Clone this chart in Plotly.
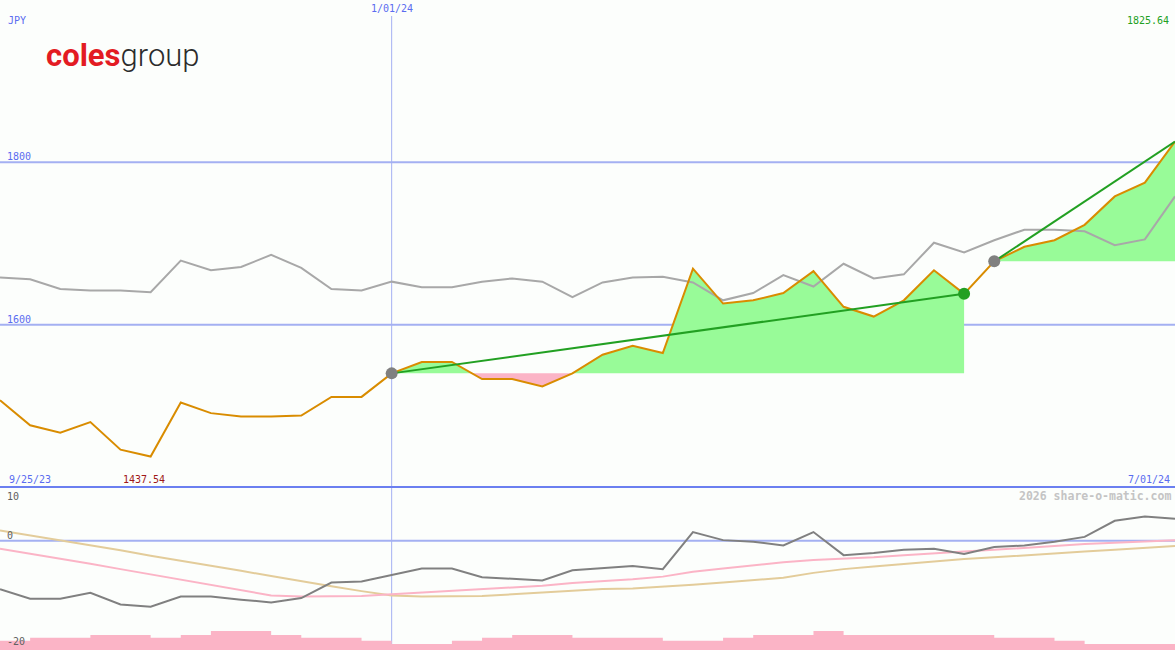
import pandas as pd
import plotly.graph_objects as go

# ---------------- data ----------------
dates = pd.date_range("2023-10-02", periods=40, freq="7D")

price = [1507, 1476, 1467, 1480, 1446, 1437.54, 1504, 1491, 1487, 1487,
         1488, 1511, 1511, 1540, 1554, 1554, 1533, 1533, 1524, 1540,
         1563, 1574, 1565, 1669, 1626, 1630, 1639, 1666, 1622, 1610,
         1630, 1667, 1638, 1678, 1696, 1704, 1723, 1758, 1775, 1825.64]

index_line = [1658, 1656, 1644, 1642, 1642, 1640, 1679, 1667, 1671, 1686,
              1670, 1644, 1642, 1653, 1646, 1646, 1653, 1657, 1653, 1634,
              1652, 1658, 1659, 1652, 1630, 1639, 1661, 1647, 1675, 1657,
              1662, 1701, 1689, 1704, 1717, 1717, 1715, 1698, 1705, 1758]

momentum = [-9.05, -10.8, -10.8, -9.7, -11.9, -12.3, -10.4, -10.4, -11.0, -11.5,
            -10.7, -7.8, -7.6, -6.4, -5.2, -5.2, -6.8, -7.1, -7.4, -5.5,
            -5.1, -4.7, -5.3, 1.6, 0.1, -0.2, -0.9, 1.6, -2.7, -2.3,
            -1.7, -1.5, -2.5, -1.2, -0.9, -0.2, 0.7, 3.7, 4.5, 4.1]

avg_fast = [-1.5, -2.4, -3.4, -4.3, -5.3, -6.3, -7.3, -8.2, -9.2, -10.2,
            -10.4, -10.3, -10.3, -10.0, -9.7, -9.3, -9.0, -8.8, -8.4, -7.9,
            -7.6, -7.2, -6.7, -5.8, -5.2, -4.6, -4.0, -3.6, -3.4, -3.1,
            -2.7, -2.3, -2.0, -1.7, -1.4, -1.0, -0.6, -0.4, -0.1, 0.1]

avg_slow = [1.9, 1.0, 0.0, -0.9, -1.8, -2.8, -3.7, -4.6, -5.6, -6.6,
            -7.6, -8.5, -9.4, -10.2, -10.4, -10.3, -10.3, -10.0, -9.7, -9.3,
            -9.0, -8.9, -8.6, -8.2, -7.8, -7.4, -6.9, -6.0, -5.3, -4.8,
            -4.3, -3.8, -3.4, -3.1, -2.7, -2.3, -2.0, -1.7, -1.4, -1.0]

volume = [9.3, 12.3, 12.3, 15, 15, 12.3, 15, 19, 19, 15,
          12.3, 12.3, 9.3, 6, 6, 9.3, 12.3, 15, 15, 12.3,
          12.3, 12.3, 9.3, 9.3, 12.3, 15, 15, 19, 15, 15,
          15, 15, 15, 12.3, 12.3, 9.3, 6, 6, 6]

trend_segments = [(13, 32), (33, 39)]
marker_points = [(13, "#808080"), (32, "#22a022"), (33, "#808080")]
vline_date = "2024-01-01"

# ---------------- styles ----------------
BG = "#fcfefc"
ORANGE = "#d98c00"
GRAY = "#a8a8a8"
DGRAY = "#808080"
GREEN = "#22a022"
LGREEN = "#98fb98"
PINK = "#fbb4c6"
TAN = "#e3cc9a"
BLUE = "#5a6cf0"
GRID = "#a4b0f2"
W, H = 1175, 650
SPLIT = 487  # px from top where panels meet
MONO = "DejaVu Sans Mono"

fig = go.Figure()


def fill_polys(i0, i1):
    base = price[i0]
    xs = list(dates[i0:i1 + 1])
    ys = price[i0:i1 + 1]
    up, dn = [], []
    for k in range(len(xs)):
        if k > 0:
            a, b = ys[k - 1] - base, ys[k] - base
            if a * b < 0:
                f = a / (a - b)
                xc = xs[k - 1] + (xs[k] - xs[k - 1]) * f
                up.append((xc, base))
                dn.append((xc, base))
        up.append((xs[k], max(ys[k], base)))
        dn.append((xs[k], min(ys[k], base)))
    close = [(xs[-1], base), (xs[0], base)]
    return up + close, dn + close


for i0, i1 in trend_segments:
    up, dn = fill_polys(i0, i1)
    for poly, col in ((up, LGREEN), (dn, PINK)):
        fig.add_trace(go.Scatter(x=[p[0] for p in poly], y=[p[1] for p in poly],
                                 fill="toself", fillcolor=col, mode="lines",
                                 line=dict(width=0), hoverinfo="skip",
                                 xaxis="x", yaxis="y"))

fig.add_trace(go.Scatter(x=dates, y=index_line, mode="lines",
                         line=dict(color=GRAY, width=2), xaxis="x", yaxis="y"))
fig.add_trace(go.Scatter(x=dates, y=price, mode="lines",
                         line=dict(color=ORANGE, width=2), xaxis="x", yaxis="y"))

for i0, i1 in trend_segments:
    fig.add_trace(go.Scatter(x=[dates[i0], dates[i1]], y=[price[i0], price[i1]],
                             mode="lines", line=dict(color=GREEN, width=2),
                             xaxis="x", yaxis="y"))

for i, col in marker_points:
    fig.add_trace(go.Scatter(x=[dates[i]], y=[price[i]], mode="markers",
                             marker=dict(color=col, size=12, line=dict(width=0)),
                             xaxis="x", yaxis="y"))

# bottom panel
vol_x = list(dates)
vol_y = volume + [volume[-1]]
fig.add_trace(go.Scatter(x=vol_x, y=vol_y, mode="lines", line_shape="hv",
                         line=dict(width=0, color=PINK), fill="tozeroy",
                         fillcolor=PINK, xaxis="x", yaxis="y3"))
fig.add_trace(go.Scatter(x=dates, y=avg_slow, mode="lines",
                         line=dict(color=TAN, width=2), xaxis="x", yaxis="y2"))
fig.add_trace(go.Scatter(x=dates, y=avg_fast, mode="lines",
                         line=dict(color=PINK, width=2), xaxis="x", yaxis="y2"))
fig.add_trace(go.Scatter(x=dates, y=momentum, mode="lines",
                         line=dict(color=DGRAY, width=2), xaxis="x", yaxis="y2"))

split = 1 - SPLIT / H
hidden = dict(showgrid=False, zeroline=False, showticklabels=False,
              showline=False, ticks="")

fig.update_layout(
    width=W, height=H, margin=dict(l=0, r=0, t=0, b=0),
    paper_bgcolor=BG, plot_bgcolor=BG, showlegend=False,
    xaxis=dict(range=[dates[0], dates[-1]], domain=[0, 1], **hidden),
    yaxis=dict(range=[1400, 2000], domain=[split, 1], **hidden),
    yaxis2=dict(range=[-20.37, 10], domain=[0, split], anchor="x", **hidden),
    yaxis3=dict(range=[0, H - SPLIT], overlaying="y2", anchor="x", **hidden),
)

# grid lines
for lvl in (1600, 1800):
    fig.add_shape(type="line", xref="paper", yref="y", x0=0, x1=1, y0=lvl, y1=lvl,
                  line=dict(color=GRID, width=2), layer="below")
fig.add_shape(type="line", xref="paper", yref="y2", x0=0, x1=1, y0=0, y1=0,
              line=dict(color=GRID, width=2), layer="below")
fig.add_shape(type="line", xref="x", yref="paper", x0=vline_date, x1=vline_date,
              y0=0, y1=1 - 16 / H, line=dict(color=GRID, width=1), layer="below")
fig.add_shape(type="line", xref="paper", yref="paper", x0=0, x1=1, y0=split, y1=split,
              line=dict(color="#6b7ff0", width=2))


def label(text, px, py, color, anchor="left", size=10, bold=False):
    fig.add_annotation(text=f"<b>{text}</b>" if bold else text,
                       xref="paper", yref="paper", x=px / W, y=1 - py / H,
                       xanchor=anchor, yanchor="middle", showarrow=False,
                       font=dict(family=MONO, size=size, color=color))


label("JPY", 6, 20, BLUE)
label("1/01/24", 392, 9, BLUE, anchor="center")
label(f"{max(price):.2f}", 1171, 20, GREEN, anchor="right")
label("1800", 5, 156, BLUE)
label("1600", 5, 319, BLUE)
label("9/25/23", 7, 479, BLUE)
label(f"{min(price):.2f}", 121, 479, "#a01818")
label("7/01/24", 1172, 479, BLUE, anchor="right")
label("2026 share-o-matic.com", 1173, 496, "#c4c4c4", anchor="right", size=11.5, bold=True)
label("10", 5, 496, "#606060")
label("0", 5, 535, "#606060")
label("-20", 5, 641, "#606060")

fig.add_annotation(
    text="<span style='color:#e31b23;font-weight:bold'>coles</span>"
         "<span style='color:#2b2b2b;font-weight:300'>group</span>",
    xref="paper", yref="paper", x=44 / W, y=1 - 55 / H, xanchor="left",
    yanchor="middle", showarrow=False,
    font=dict(family="Roboto", size=31, color="#2b2b2b"))

fig.write_html(
    "out.html",
    config={"displayModeBar": False},
    post_script="document.body.style.margin='0';document.body.style.overflow='hidden';",
)
